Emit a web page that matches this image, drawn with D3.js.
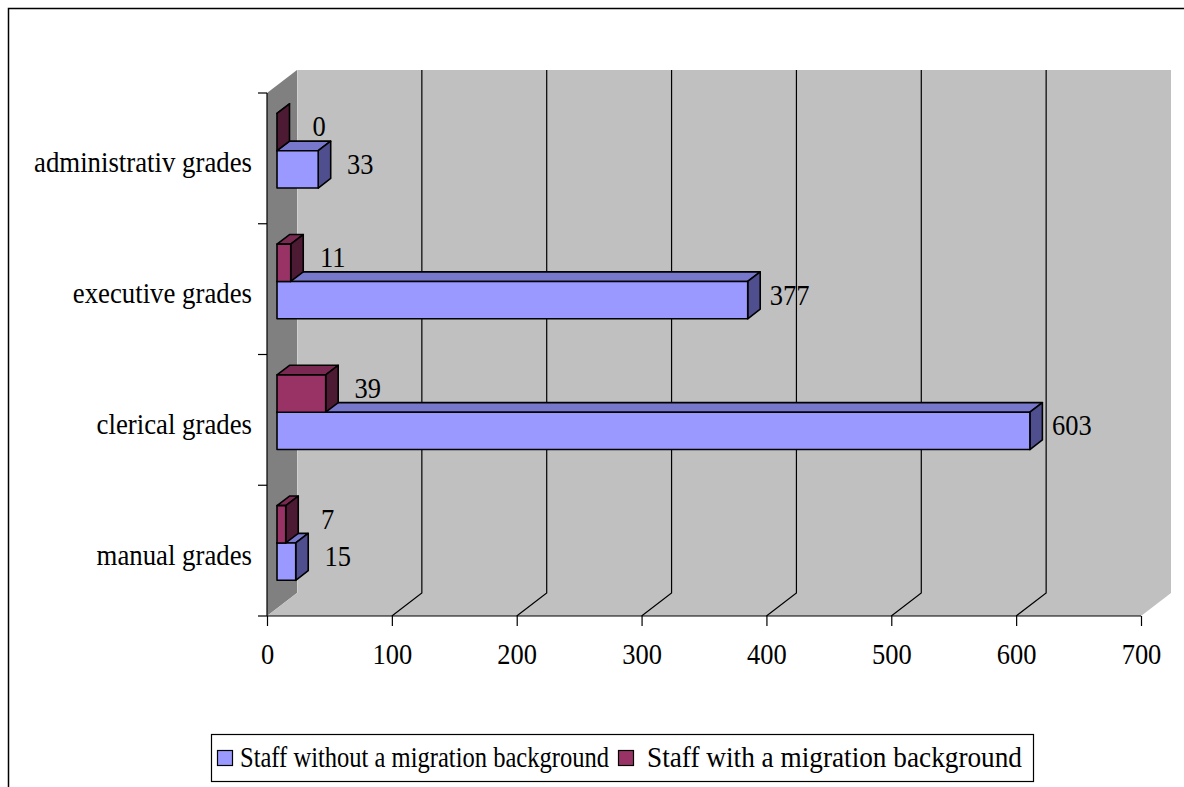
<!DOCTYPE html>
<html>
<head>
<meta charset="utf-8">
<script src="https://cdn.jsdelivr.net/npm/d3@7"></script>
<style>
  html, body { margin: 0; padding: 0; background: #fff; }
  svg { display: block; }
  text { font-family: "Liberation Serif", "Times New Roman", serif; fill: #000; }
</style>
</head>
<body>
<svg id="chart" width="1184" height="787"></svg>
<script>
// Staff by grade, split by migration background
const categories = ["administrativ grades", "executive grades", "clerical grades", "manual grades"];
const seriesNames = ["Staff without a migration background", "Staff with a migration background"];
const withoutMigration = [33, 377, 603, 15];
const withMigration = [0, 11, 39, 7];
const xTicks = [0, 100, 200, 300, 400, 500, 600, 700];

const faceColors = [
  { front: "#9999ff", top: "#7777cc", side: "#4f4f8f" },
  { front: "#993366", top: "#7a2952", side: "#4d1a33" }
];

const svg = d3.select("#chart");
const W = 1184, H = 787;

// chart frame
svg.append("rect")
  .attr("x", 8.5).attr("y", 8.5)
  .attr("width", W + 20).attr("height", H + 20)
  .attr("fill", "#fff").attr("stroke", "#000").attr("stroke-width", 1.5);

// plot geometry: front plane and wall depth offset
const plotL = 267, plotR = 1141, plotT = 93, plotB = 616;
const depthX = 30, slope = 0.767;
const proj = (px, py, d) => [px + d, py - d * slope];

const x = d3.scaleLinear().domain([0, 700]).range([plotL, plotR]);
const y = d3.scaleBand().domain(categories).range([plotT, plotB]).paddingInner(0).paddingOuter(0);

const line = d3.line();

// left side wall
svg.append("path")
  .attr("d", line([proj(plotL, plotT, 0), proj(plotL, plotT, depthX), proj(plotL, plotB, depthX), proj(plotL, plotB, 0)]) + "Z")
  .attr("fill", "#808080");

// back wall
svg.append("path")
  .attr("d", line([proj(plotL, plotT, depthX), proj(plotR, plotT, depthX), proj(plotR, plotB, depthX), proj(plotL, plotB, depthX)]) + "Z")
  .attr("fill", "#c0c0c0");

// floor
svg.append("path")
  .attr("d", line([proj(plotL, plotB, 0), proj(plotL, plotB, depthX), proj(plotR, plotB, depthX), proj(plotR, plotB, 0)]) + "Z")
  .attr("fill", "#c0c0c0");

// faint edge between side wall and back wall
svg.append("line")
  .attr("x1", plotL + depthX + 0.5).attr("x2", plotL + depthX + 0.5)
  .attr("y1", plotT - depthX * slope).attr("y2", plotB - depthX * slope)
  .attr("stroke", "#d0d0d0").attr("stroke-width", 1);

// gridlines on back wall and floor
const gridVals = xTicks.filter(v => v > 0 && v < 700);
const grid = svg.append("g");
gridVals.forEach(v => {
  const p0 = proj(x(v), plotT, depthX), p1 = proj(x(v), plotB, depthX), p2 = proj(x(v), plotB, 0);
  grid.append("path")
    .attr("d", line([p0, p1, p2]))
    .attr("fill", "none").attr("stroke", "#000").attr("stroke-width", 1.2);
});

// x axis
const xAxis = d3.axisBottom(x).tickValues(xTicks).tickSize(10).tickPadding(14).tickFormat(d3.format("d"));
const gx = svg.append("g").attr("transform", `translate(0,${plotB})`).call(xAxis);
gx.select(".domain").attr("stroke", "#000").attr("stroke-width", 1.2).attr("d", `M${plotL},0H${plotR}`);
gx.selectAll(".tick line").attr("stroke", "#000").attr("stroke-width", 1.2);
gx.selectAll(".tick text")
  .style("font-family", '"Liberation Serif", "Times New Roman", serif')
  .style("font-size", "26.5px").attr("fill", "#000")
  .attr("dy", null).attr("y", 0)
  .attr("transform", "translate(0,48) scale(1,1.12)");

// y axis line and ticks at category boundaries
svg.append("line")
  .attr("x1", plotL).attr("x2", plotL).attr("y1", plotT).attr("y2", plotB)
  .attr("stroke", "#000").attr("stroke-width", 1.2);
const bounds = categories.map(c => y(c)).concat([plotB]);
svg.append("g").selectAll("line").data(bounds).join("line")
  .attr("x1", plotL - 9).attr("x2", plotL)
  .attr("y1", d => d).attr("y2", d => d)
  .attr("stroke", "#000").attr("stroke-width", 1.2);

// category labels
svg.append("g").selectAll("text").data(categories).join("text")
  .attr("text-anchor", "end")
  .attr("transform", d => `translate(252,${y(d) + y.bandwidth() / 2 + 14}) scale(1,1.1)`)
  .style("font-size", "26.8px")
  .text(d => d);

// bars: two series per band, first series at the bottom, gap width 150%
const barH = y.bandwidth() / 3.5;
const frontD = 10, backD = 22.5;
const bars = [];
categories.forEach((c, i) => {
  const mid = y(c) + y.bandwidth() / 2;
  bars.push({ cat: c, s: 0, v: withoutMigration[i], y0: mid, y1: mid + barH });
  bars.push({ cat: c, s: 1, v: withMigration[i], y0: mid - barH, y1: mid });
});

const barG = svg.append("g");
bars.forEach(b => {
  const col = faceColors[b.s];
  const xa = x(0), xb = x(b.v);
  const g = barG.append("g").attr("stroke", "#000").attr("stroke-width", 1.6).attr("stroke-linejoin", "round");
  // top face
  g.append("path").attr("fill", col.top)
    .attr("d", line([proj(xa, b.y0, frontD), proj(xb, b.y0, frontD), proj(xb, b.y0, backD), proj(xa, b.y0, backD)]) + "Z");
  // end face
  g.append("path").attr("fill", col.side)
    .attr("d", line([proj(xb, b.y0, frontD), proj(xb, b.y0, backD), proj(xb, b.y1, backD), proj(xb, b.y1, frontD)]) + "Z");
  // front face
  if (b.v > 0) {
    g.append("path").attr("fill", col.front)
      .attr("d", line([proj(xa, b.y0, frontD), proj(xb, b.y0, frontD), proj(xb, b.y1, frontD), proj(xa, b.y1, frontD)]) + "Z");
  }
});

// value labels
svg.append("g").selectAll("text").data(bars).join("text")
  .attr("text-anchor", "middle")
  .attr("transform", d => {
    const p = proj(x(d.v), (d.y0 + d.y1) / 2, frontD);
    return `translate(${p[0] + 42},${p[1] - 6}) scale(1,1.12)`;
  })
  .attr("dy", "0.35em")
  .style("font-size", "26.5px")
  .text(d => d.v);

// legend
const legend = svg.append("g");
legend.append("rect")
  .attr("x", 211.5).attr("y", 734.5).attr("width", 822).attr("height", 47)
  .attr("fill", "#fff").attr("stroke", "#000").attr("stroke-width", 1.2);
const legItems = [
  { name: seriesNames[0], color: faceColors[0].front, x: 217, tx: 240, len: 369 },
  { name: seriesNames[1], color: faceColors[1].front, x: 618, tx: 647, len: 375 }
];
legItems.forEach(it => {
  legend.append("rect")
    .attr("x", it.x + 0.5).attr("y", 750.5).attr("width", 15).attr("height", 15)
    .attr("fill", it.color).attr("stroke", "#000").attr("stroke-width", 1.2);
  legend.append("text")
    .attr("transform", `translate(${it.tx},767) scale(1,1.14)`)
    .attr("textLength", it.len).attr("lengthAdjust", "spacingAndGlyphs")
    .style("font-size", "25.5px")
    .text(it.name);
});
</script>
</body>
</html>
